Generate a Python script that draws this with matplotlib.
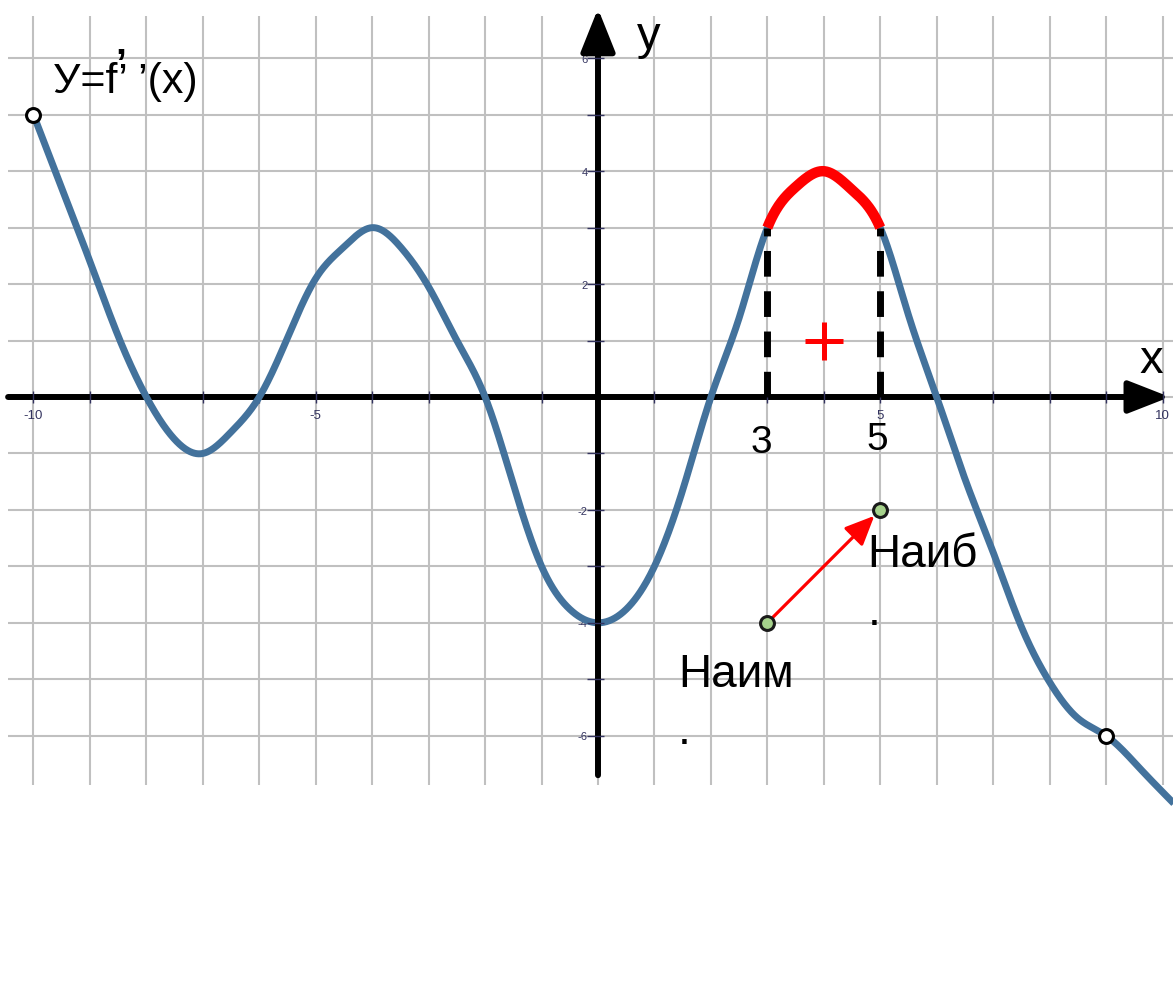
import numpy as np
import matplotlib
matplotlib.use("Agg")
import matplotlib.pyplot as plt

plt.rcParams["font.family"] = ["Liberation Sans", "DejaVu Sans"]

# points (x, y of the drawn curve)
curve_x = [-10, -9.5, -9, -8.5, -8, -7.5, -7, -6.5, -6, -5.5, -5, -4.5, -4,
           -3.5, -3, -2.5, -2, -1.5, -1, -0.5, 0, 0.5, 1, 1.5, 2, 2.5, 3,
           3.5, 4, 4.5, 5, 5.5, 6, 6.5, 7, 7.5, 8, 8.5, 9, 9.6, 10.2]
curve_y = [5, 3.7, 2.4, 1.08, 0, -0.75, -1, -0.62, 0, 1.05, 2.1, 2.66, 3,
           2.66, 1.95, 1.0, 0, -1.55, -3, -3.76, -4, -3.76, -3, -1.65, 0, 1.4, 3,
           3.72, 4, 3.67, 3, 1.45, 0, -1.45, -2.75, -4.07, -5.05, -5.69, -6, -6.58, -7.2]

# highlighted interval on the x axis
interval = [3, 5]
plus_point = (4, 1)

# endpoints of the graph (open circles)
end_x = [-10, 9]
end_y = [5, -6]

# points of the arrow "Наим" -> "Наиб"
min_pt = (3, -4)
max_pt = (5, -2)

x_tick_labels = {-10: "-10", -5: "-5", 5: "5", 10: "10"}
y_tick_labels = {6: "6", 4: "4", 2: "2", -2: "-2", -4: "-4", -6: "-6"}

BLUE = "#43729c"
NAVY = "#33335f"
GRID = "#c0c0c0"


def natural_spline(xs, ys, per_seg=40):
    # natural cubic spline through the read points, for a smooth drawn line
    xs = np.asarray(xs, float)
    ys = np.asarray(ys, float)
    n = len(xs)
    h = np.diff(xs)
    A = np.zeros((n, n))
    b = np.zeros(n)
    A[0, 0] = A[-1, -1] = 1
    for i in range(1, n - 1):
        A[i, i - 1] = h[i - 1]
        A[i, i] = 2 * (h[i - 1] + h[i])
        A[i, i + 1] = h[i]
        b[i] = 6 * ((ys[i + 1] - ys[i]) / h[i] - (ys[i] - ys[i - 1]) / h[i - 1])
    M = np.linalg.solve(A, b)
    out_x, out_y = [], []
    for i in range(n - 1):
        t = np.linspace(xs[i], xs[i + 1], per_seg, endpoint=False)
        a = xs[i + 1] - t
        c = t - xs[i]
        y = (M[i] * a**3 + M[i + 1] * c**3) / (6 * h[i]) \
            + (ys[i] / h[i] - M[i] * h[i] / 6) * a \
            + (ys[i + 1] / h[i] - M[i + 1] * h[i] / 6) * c
        out_x.append(t)
        out_y.append(y)
    out_x.append([xs[-1]])
    out_y.append([ys[-1]])
    return np.concatenate(out_x), np.concatenate(out_y)


PX = 56.45  # pixels per unit
fig = plt.figure(figsize=(11.73, 9.88), dpi=100)
ax = fig.add_axes([0, 0, 1, 1])
ax.set_xlim(-598 / PX, (1173 - 598) / PX)
ax.set_ylim(-(988 - 397) / PX, 397 / PX)
ax.axis("off")

# grid
ax.vlines(np.arange(-10, 11), -6.87, 6.75, color=GRID, lw=1.5, zorder=1)
ax.hlines(np.arange(-6, 7), -10.45, 10.4, color=GRID, lw=1.5, zorder=1)

# axes with arrows
ax.annotate("", xy=(10.13, 0), xytext=(-10.45, 0),
            arrowprops=dict(arrowstyle="-|>,head_length=1.15,head_width=0.45",
                            lw=4.3, color="black", mutation_scale=22,
                            shrinkA=0, shrinkB=0), zorder=2)
ax.annotate("", xy=(0, 6.88), xytext=(0, -6.7),
            arrowprops=dict(arrowstyle="-|>,head_length=1.2,head_width=0.48",
                            lw=4.3, color="black", mutation_scale=22,
                            shrinkA=0, shrinkB=0), zorder=4)

# small ticks
ticks = [i for i in range(-10, 11) if i != 0]
ax.vlines(ticks, -0.1, 0.1, color=NAVY, lw=1, zorder=3)
ax.hlines([i for i in range(-6, 7) if i != 0], -0.2, 0.1, color=NAVY, lw=1, zorder=5)
for v, s in x_tick_labels.items():
    ax.text(v, -0.34, s, fontsize=9.5, color=NAVY, ha="center", va="center")
for v, s in y_tick_labels.items():
    ax.text(-0.18, v - 0.03, s, fontsize=8, color=NAVY, ha="right", va="center")

# the curve
sx, sy = natural_spline(curve_x, curve_y)
ax.plot(sx, sy, color=BLUE, lw=5, solid_capstyle="butt", zorder=3)
mask = (sx >= interval[0]) & (sx <= interval[1])
ax.plot(sx[mask], sy[mask], color="red", lw=7.5, solid_capstyle="butt", zorder=6)

# dashed verticals at the interval ends
for v in interval:
    yv = sy[np.argmin(np.abs(sx - v))]
    ax.plot([v, v], [0, yv], color="black", lw=5, dashes=(3.7, 2.1), zorder=5)

ax.plot(*plus_point, marker="+", markersize=27, mew=3.6, color="red", zorder=6)

# open end points
ax.plot(end_x, end_y, "o", markersize=10, mfc="white", mec="black", mew=2.2, zorder=7)

# Наим -> Наиб arrow
ax.annotate("", xy=max_pt, xytext=min_pt,
            arrowprops=dict(arrowstyle="-|>,head_length=0.9,head_width=0.4",
                            lw=2.3, color="red", mutation_scale=20,
                            shrinkA=6, shrinkB=6), zorder=6)
ax.plot([min_pt[0], max_pt[0]], [min_pt[1], max_pt[1]], "o", markersize=10,
        mfc="#a6d28c", mec="#1a1a1a", mew=2.2, zorder=7)

# texts
ax.text(-9.65, 5.385, "У=f’ ’(x)", fontsize=31, va="baseline", ha="left")
ax.text(-8.55, 5.69, "’", fontsize=28, fontweight="bold", va="baseline", ha="left")
ax.text(0.69, 6.17, "y", fontsize=34, va="baseline", ha="left")
ax.text(9.6, 0.425, "x", fontsize=34, va="baseline", ha="left")
ax.text(2.89, -0.99, "3", fontsize=28, va="baseline", ha="center")
ax.text(4.94, -0.94, "5", fontsize=28, va="baseline", ha="center")
ax.text(4.77, -3.01, "Наиб", fontsize=33, va="baseline", ha="left")
ax.text(4.77, -4.04, ".", fontsize=33, va="baseline", ha="left")
ax.text(1.42, -5.14, "Наим", fontsize=33, va="baseline", ha="left")
ax.text(1.42, -6.15, ".", fontsize=33, va="baseline", ha="left")

fig.savefig("out.png", dpi=100)
